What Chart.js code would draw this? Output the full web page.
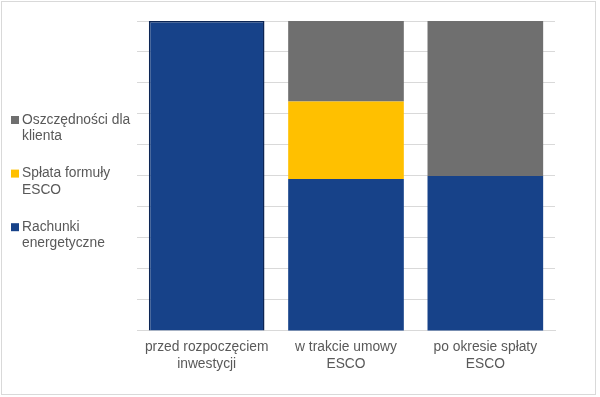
<!DOCTYPE html>
<html>
<head>
<meta charset="utf-8">
<script src="https://cdn.jsdelivr.net/npm/chart.js@4"></script>
<style>
  html, body { margin: 0; padding: 0; background: #fff; }
  #wrap { position: relative; width: 600px; height: 397px; }
  #frame { position: absolute; left: 1px; top: 1px; width: 595px; height: 394px; border: 1px solid #d9d9d9; box-sizing: border-box; }
</style>
</head>
<body>
<div id="wrap">
  <canvas id="escoChart" width="600" height="397"></canvas>
  <div id="frame"></div>
</div>
<script>
// Categories and series (stacked shares of the energy bill)
var categories = [
    ['przed rozpoczęciem', 'inwestycji'],
    ['w trakcie umowy', 'ESCO'],
    ['po okresie spłaty', 'ESCO']
];
var billsValues = [100, 49, 50];
var escoValues = [0, 25, 0];
var savingsValues = [0, 26, 50];

var seriesNames = [
    ['Rachunki', 'energetyczne'],
    ['Spłata formuły', 'ESCO'],
    ['Oszczędności dla', 'klienta']
];

var FONT = { family: "'Liberation Sans', Arial, sans-serif", size: 13.8 };

// legend on the left, drawn from the datasets (reverse order, wrapped text)
var leftLegend = {
    id: 'leftLegend',
    afterDraw: function (chart) {
        var ctx = chart.ctx;
        var sets = chart.data.datasets.slice().reverse();
        ctx.save();
        ctx.font = FONT.size + 'px ' + FONT.family;
        ctx.textBaseline = 'middle';
        sets.forEach(function (ds, i) {
            var y = 120 + i * 53.6;
            ctx.fillStyle = ds.backgroundColor;
            ctx.fillRect(11, y - 4, 8, 8);
            ctx.fillStyle = '#595959';
            ds.label.forEach(function (line, j) {
                ctx.fillText(line, 22, y + j * 16.3);
            });
        });
        ctx.restore();
    }
};

var ctx = document.getElementById('escoChart').getContext('2d');
var escoChart = new Chart(ctx, {
    type: 'bar',
    data: {
        labels: categories,
        datasets: [{
            label: seriesNames[0],
            data: billsValues,
            backgroundColor: '#174289',
            borderColor: ['#0c2554', '#174289', '#174289'],
            borderWidth: [1.5, 0, 0]
        }, {
            label: seriesNames[1],
            data: escoValues,
            backgroundColor: '#ffc000',
            borderWidth: 0
        }, {
            label: seriesNames[2],
            data: savingsValues,
            backgroundColor: '#6f6f6f',
            borderWidth: 0
        }]
    },
    options: {
        responsive: false,
        animation: false,
        layout: {
            padding: { left: 137, top: 21, right: 45, bottom: 25 }
        },
        datasets: {
            bar: {
                categoryPercentage: 1.0,
                barPercentage: 0.83
            }
        },
        scales: {
            x: {
                stacked: true,
                grid: { display: false },
                border: { color: '#d9d9d9', width: 1 },
                ticks: {
                    color: '#595959',
                    font: FONT,
                    padding: 0,
                    maxRotation: 0
                }
            },
            y: {
                stacked: true,
                min: 0,
                max: 100,
                grid: {
                    color: '#d9d9d9',
                    lineWidth: 1,
                    drawTicks: false
                },
                border: { display: false },
                ticks: { display: false, stepSize: 10 }
            }
        },
        plugins: {
            legend: { display: false },
            tooltip: { enabled: false }
        }
    },
    plugins: [leftLegend]
});
</script>
</body>
</html>
